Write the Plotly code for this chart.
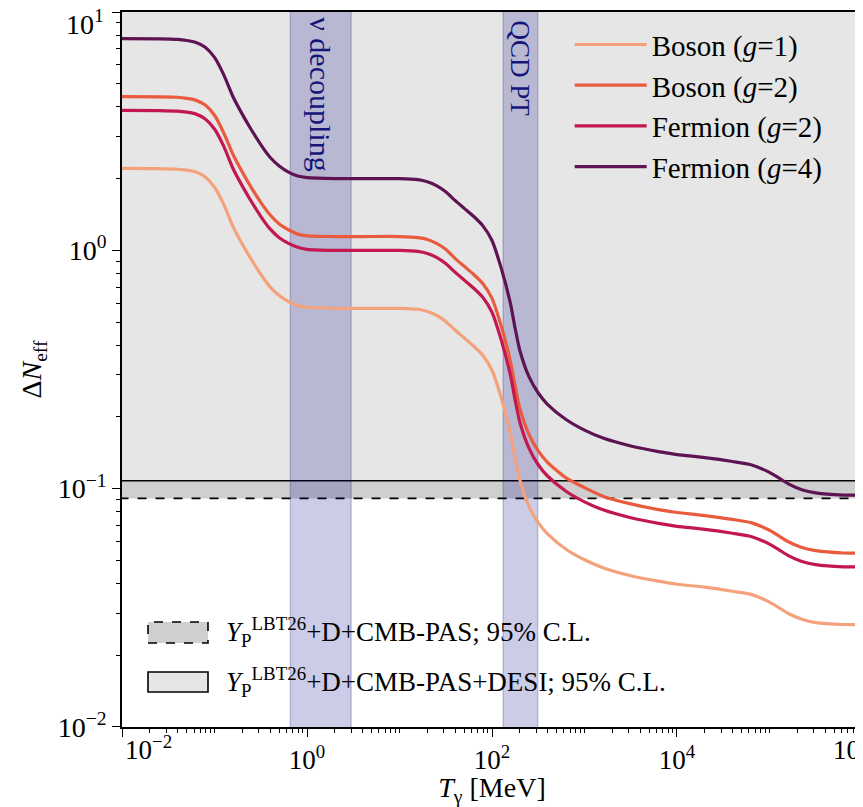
import math
import plotly.graph_objects as go

# ---------------- data ----------------
T_MeV = [0.01, 0.0251, 0.0398, 0.0501, 0.0631, 0.0794, 0.1, 0.126, 0.158, 0.2,
         0.251, 0.316, 0.398, 0.501, 0.631, 0.794, 1.0, 2.0, 3.98, 10.0,
         15.8, 20.0, 25.1, 31.6, 39.8, 50.1, 63.1, 79.4, 100.0, 126.0,
         158.0, 178.0, 200.0, 251.0, 316.0, 398.0, 631.0, 1000.0, 1585.0, 3162.0,
         6310.0, 1.0e4, 2.0e4, 3.98e4, 6.31e4, 1.0e5, 1.26e5, 1.58e5, 2.24e5, 3.16e5,
         6.31e5, 1.0e6]

boson_g1 = [2.21, 2.205, 2.19, 2.17, 2.13, 2.03, 1.84, 1.56, 1.26, 1.06,
            0.914, 0.794, 0.703, 0.646, 0.609, 0.586, 0.577, 0.571, 0.571, 0.571,
            0.566, 0.554, 0.534, 0.503, 0.463, 0.429, 0.397, 0.363, 0.314, 0.24,
            0.171, 0.134, 0.109, 0.0843, 0.072, 0.0646, 0.0557, 0.0503, 0.0466, 0.0431,
            0.0409, 0.0397, 0.0386, 0.0371, 0.036, 0.0334, 0.0317, 0.030, 0.0283, 0.0274,
            0.0269, 0.0269]

boson_g2 = [4.42, 4.41, 4.39, 4.34, 4.26, 4.07, 3.69, 3.11, 2.53, 2.13,
            1.83, 1.59, 1.41, 1.29, 1.22, 1.17, 1.15, 1.143, 1.143, 1.143,
            1.13, 1.11, 1.07, 1.01, 0.926, 0.857, 0.794, 0.726, 0.629, 0.48,
            0.343, 0.269, 0.217, 0.169, 0.144, 0.129, 0.111, 0.101, 0.093, 0.0863,
            0.0817, 0.0794, 0.0771, 0.0743, 0.072, 0.0669, 0.0634, 0.060, 0.0566, 0.0549,
            0.0537, 0.0537]

fermion_g2 = [3.87, 3.86, 3.84, 3.80, 3.73, 3.56, 3.23, 2.73, 2.21, 1.86,
              1.60, 1.39, 1.23, 1.13, 1.07, 1.03, 1.01, 1.0, 1.0, 1.0,
              0.99, 0.97, 0.935, 0.88, 0.81, 0.75, 0.695, 0.635, 0.55, 0.42,
              0.30, 0.235, 0.19, 0.148, 0.126, 0.113, 0.0975, 0.088, 0.0815, 0.0755,
              0.0715, 0.0695, 0.0675, 0.065, 0.063, 0.0585, 0.0555, 0.0525, 0.0495, 0.048,
              0.047, 0.047]

fermion_g4 = [7.73, 7.72, 7.68, 7.60, 7.45, 7.12, 6.45, 5.45, 4.42, 3.72,
              3.20, 2.78, 2.46, 2.26, 2.13, 2.05, 2.02, 2.0, 2.0, 2.0,
              1.98, 1.94, 1.87, 1.76, 1.62, 1.50, 1.39, 1.27, 1.10, 0.84,
              0.60, 0.47, 0.38, 0.295, 0.252, 0.226, 0.195, 0.176, 0.163, 0.151,
              0.143, 0.139, 0.135, 0.130, 0.126, 0.117, 0.111, 0.105, 0.099, 0.096,
              0.094, 0.094]

series_names = ["Boson (<i>g</i>=1)", "Boson (<i>g</i>=2)",
                "Fermion (<i>g</i>=2)", "Fermion (<i>g</i>=4)"]
series_values = [boson_g1, boson_g2, fermion_g2, fermion_g4]
series_colors = ["#f4a27c", "#ea5a3d", "#c2174f", "#5e1352"]

# constraint bands (Delta N_eff upper limits)
limit_pas = 0.091        # dashed
limit_pas_desi = 0.108   # solid
band_names = ["<i>Y</i><sub>P</sub><sup>LBT26</sup>+D+CMB-PAS; 95% C.L.",
              "<i>Y</i><sub>P</sub><sup>LBT26</sup>+D+CMB-PAS+DESI; 95% C.L."]

# vertical epochs (MeV)
nu_dec = [0.66, 3.0]
qcd_pt = [132.0, 312.0]
epoch_labels = ["\u03bd decoupling", "QCD PT"]

x_tickvals = [1e-2, 1e0, 1e2, 1e4, 1e6]
x_ticktext = ["10<sup>\u22122</sup>", "10<sup>0</sup>", "10<sup>2</sup>",
              "10<sup>4</sup>", "10<sup>6</sup>"]
y_tickvals = [1e-2, 1e-1, 1e0, 1e1]
y_ticktext = ["10<sup>\u22122</sup>", "10<sup>\u22121</sup>", "10<sup>0</sup>",
              "10<sup>1</sup>"]

# ---------------- figure ----------------
FONT = "Liberation Serif"
fig = go.Figure()

XL, XR = 1e-3, 1e7
YB, YT = 1e-3, 1e2

# dashed band (darker) then solid band (lighter) on top
fig.add_trace(go.Scatter(
    x=[XL, XR, XR, XL, XL], y=[limit_pas, limit_pas, YT, YT, limit_pas],
    mode="lines", fill="toself", fillcolor="#cfcfcf",
    line=dict(color="black", width=1.6, dash="dash"),
    name=band_names[0], showlegend=False, hoverinfo="skip"))
fig.add_trace(go.Scatter(
    x=[XL, XR, XR, XL, XL], y=[limit_pas_desi, limit_pas_desi, YT, YT, limit_pas_desi],
    mode="lines", fill="toself", fillcolor="#e6e6e6",
    line=dict(color="black", width=1.6),
    name=band_names[1], showlegend=False, hoverinfo="skip"))

# vertical epoch spans
for span in (nu_dec, qcd_pt):
    fig.add_trace(go.Scatter(
        x=[span[0], span[1], span[1], span[0], span[0]], y=[YB, YB, YT, YT, YB],
        mode="lines", fill="toself", fillcolor="rgba(0,0,128,0.2)",
        line=dict(color="rgba(0,0,128,0.2)", width=1.5),
        showlegend=False, hoverinfo="skip"))

# curves
for name, vals, col in zip(series_names, series_values, series_colors):
    fig.add_trace(go.Scatter(
        x=T_MeV, y=vals, mode="lines", name=name,
        line=dict(color=col, width=3.2, shape="spline", smoothing=0.6)))

minor_x = [k * 10.0 ** n for n in range(-2, 6) for k in range(1, 10)
           if not (k == 1 and n % 2 == 0)]
minor_y = [k * 10.0 ** n for n in range(-2, 1) for k in range(2, 10)]

# edge labels (first/last x, top y) are placed as annotations, as in the reference
x_axis_text = [""] + x_ticktext[1:-1] + [""]
y_axis_text = y_ticktext[:-1] + [""]

# page body has an 8px margin -> compensate in figure size/margins
fig.update_layout(
    width=855, height=799,
    margin=dict(l=114, r=1, t=4, b=80),
    plot_bgcolor="white", paper_bgcolor="white",
    font=dict(family=FONT, size=27, color="black"),
    xaxis=dict(
        type="log", range=[-2.0003, 6.0003], showgrid=False, zeroline=False,
        showline=True, linecolor="black", linewidth=1.5, mirror=True,
        ticks="outside", ticklen=8, tickwidth=1.3, tickcolor="black",
        tickvals=x_tickvals, ticktext=x_axis_text,
        automargin=False, tickfont=dict(size=27),
        minor=dict(ticks="outside", ticklen=4, tickwidth=1, tickcolor="black",
                   tickvals=minor_x),
        title=dict(text="<i>T</i><sub>\u03b3</sub> [MeV]", font=dict(size=28),
                   standoff=22)),
    yaxis=dict(
        type="log", range=[-2.0003, 1.0003], showgrid=False, zeroline=False,
        showline=True, linecolor="black", linewidth=1.5, mirror=False,
        ticks="outside", ticklen=8, tickwidth=1.3, tickcolor="black",
        tickvals=y_tickvals, ticktext=y_axis_text,
        automargin=False, tickfont=dict(size=28),
        minor=dict(ticks="outside", ticklen=4, tickwidth=1, tickcolor="black",
                   tickvals=minor_y),
        title=dict(text="\u0394<i>N</i><sub>eff</sub>", font=dict(size=28),
                   standoff=8)),
    legend=dict(x=0.605, y=0.99, xanchor="left", yanchor="top",
                bgcolor="rgba(0,0,0,0)", borderwidth=0,
                font=dict(family=FONT, size=29), itemwidth=72),
    showlegend=True,
)

PW = 740.0
PH = 715.0
def px_x(px):
    return (px - 122.0) / PW
def px_y(py):
    return (727.0 - py) / PH

# edge tick labels
fig.add_annotation(x=px_x(123), y=px_y(748), xref="paper", yref="paper",
                   text=x_ticktext[0], showarrow=False, xanchor="left",
                   yanchor="middle", font=dict(family=FONT, size=27))
fig.add_annotation(x=px_x(831), y=px_y(748), xref="paper", yref="paper",
                   text=x_ticktext[-1], showarrow=False, xanchor="left",
                   yanchor="middle", font=dict(family=FONT, size=27))
fig.add_annotation(x=px_x(106), y=px_y(23), xref="paper", yref="paper",
                   text=y_ticktext[-1], showarrow=False, xanchor="right",
                   yanchor="middle", font=dict(family=FONT, size=28))

# vertical epoch labels
fig.add_annotation(x=math.log10((nu_dec[0] * nu_dec[1]) ** 0.5), xref="x",
                   y=px_y(94), yref="paper", text=epoch_labels[0], textangle=90,
                   showarrow=False, yanchor="middle", xanchor="center",
                   font=dict(family=FONT, size=30, color="#15157a"))
fig.add_annotation(x=math.log10((qcd_pt[0] * qcd_pt[1]) ** 0.5), xref="x",
                   y=px_y(69), yref="paper", text=epoch_labels[1], textangle=90,
                   showarrow=False, yanchor="middle", xanchor="center",
                   font=dict(family=FONT, size=27, color="#15157a"))

# second legend (constraint bands), drawn as patches + text
patch_specs = [("dash", "#cfcfcf", 622, 643, 632), ("solid", "#e6e6e6", 672, 692, 682)]
for (dash, fc, ytop, ybot, yc), label in zip(patch_specs, band_names):
    fig.add_shape(type="rect", xref="paper", yref="paper",
                  x0=px_x(148), x1=px_x(208), y0=px_y(ybot), y1=px_y(ytop),
                  fillcolor=fc, line=dict(color="black", width=1.6, dash=dash),
                  layer="above")
    fig.add_annotation(x=px_x(224), y=px_y(yc), xref="paper", yref="paper",
                       text=label, showarrow=False, xanchor="left",
                       yanchor="middle", font=dict(family=FONT, size=27))

fig.write_html("out.html")
